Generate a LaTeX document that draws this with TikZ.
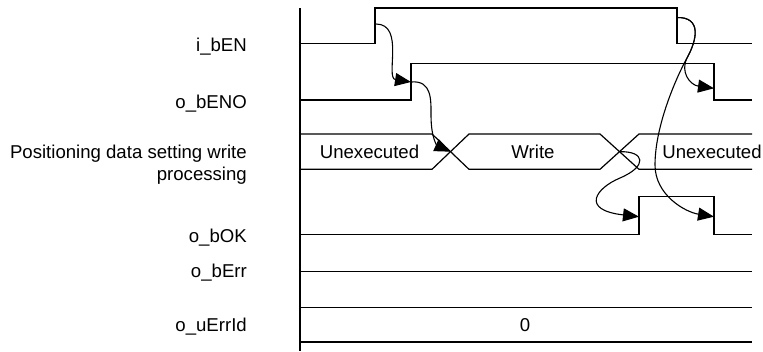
\documentclass[tikz,border=0pt]{standalone}
\usepackage{fontspec}
\setmainfont{Liberation Sans}
\usetikzlibrary{arrows.meta}
\begin{document}
\begin{tikzpicture}[x=1pt,y=-1pt,
  sig/.style={line width=1.2pt, line join=miter},
  cause/.style={line width=1.1pt, -{Triangle[length=16pt,width=13pt]}},
  lbl/.style={anchor=base east, inner sep=0pt, font=\fontsize{18.6}{21.7}\selectfont},
  val/.style={anchor=base, inner sep=0pt, font=\fontsize{18.6}{21.7}\selectfont}]
\useasboundingbox (0,0) rectangle (763,351);

% labels
\node[lbl] (lEN)   at (247,51.7)  {i\_bEN};
\node[lbl] (lENO)  at (247,108.3) {o\_bENO};
\node[lbl] (lPos)  at (247,158.5) {Positioning data setting write};
\node[lbl] (lPos2) at (247,180.2) {processing};
\node[lbl] (lOK)   at (247,242.5) {o\_bOK};
\node[lbl] (lErr)  at (247,277.5) {o\_bErr};
\node[lbl] (lId)   at (247,331.2) {o\_uErrId};

% axis
\draw[sig] (300,8) -- (300,351);

% i_bEN
\draw[sig] (300,43.5) -- (375,43.5) -- (375,8) -- (677,8) -- (677,43.5) -- (752,43.5);
% o_bENO
\draw[sig] (300,100) -- (411,100) -- (411,63.3) -- (714,63.3) -- (714,100) -- (752,100);
% data
\draw[sig] (300,134) -- (432,134) -- (469,169.3) -- (600,169.3) -- (639,134) -- (752,134);
\draw[sig] (300,169.3) -- (432,169.3) -- (469,134) -- (600,134) -- (639,169.3) -- (752,169.3);
\node[val] (u1) at (369.5,158) {Unexecuted};
\node[val] (w1) at (533,158) {Write};
\node[val] (u2) at (712,158) {Unexecuted};
% o_bOK
\draw[sig] (300,234.3) -- (639,234.3) -- (639,196.7) -- (714,196.7) -- (714,234.3) -- (752,234.3);
% o_bErr
\draw[sig] (300,271.3) -- (752,271.3);
% o_uErrId
\draw[sig] (300,307.3) -- (752,307.3);
\draw[sig] (300,342) -- (752,342);
\node[val] (z0) at (525,331) {0};

% cause points
\coordinate (enOn)   at (376,24);
\coordinate (enoOn)  at (411,82);
\coordinate (x1)     at (450.5,151.7);
\coordinate (x2)     at (619.5,151.7);
\coordinate (okOn)   at (639,216.7);
\coordinate (enOff)  at (677,17.5);
\coordinate (enoOff) at (714,88.3);
\coordinate (okOff)  at (714,216.7);

\draw[cause] (enOn) .. controls (405,24) and (385,78) .. (enoOn);
\draw[cause] (enoOn) .. controls (432,80) and (431,100) .. (431,115)
  .. controls (431,140) and (438,146) .. (x1);
\draw[cause] (x2) .. controls (645,151) and (648,166) .. (620,178)
  .. controls (596,188) and (580,210) .. (okOn);
\draw[cause] (enOff) .. controls (702,17) and (697,40) .. (687,58)
  .. controls (680,72) and (690,85) .. (enoOff);
\draw[cause] (enOff) .. controls (702,17) and (697,40) .. (687,58)
  .. controls (677,76) and (655,125) .. (655,165)
  .. controls (655,195) and (685,212) .. (okOff);
\end{tikzpicture}
\end{document}
